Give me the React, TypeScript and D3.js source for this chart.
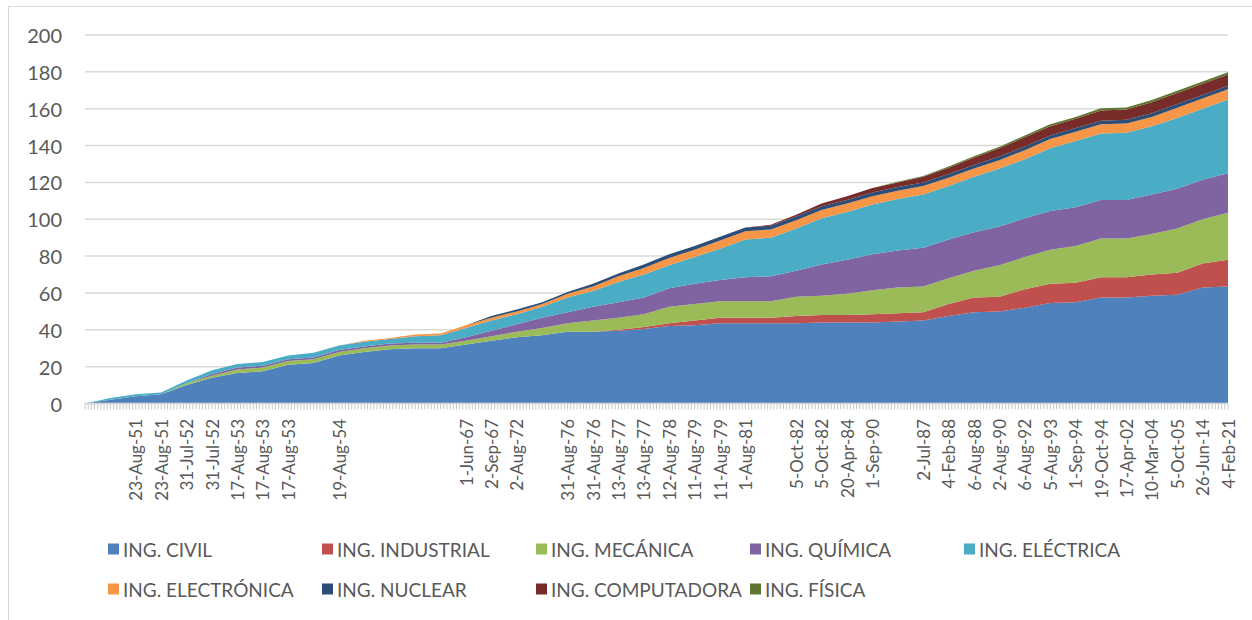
import React from 'react';
import * as d3 from 'd3';

// Category axis: 361 categories, labels shown every 8th category
const categoryCount = 361;
const labelStep = 8;

const sampleLabels = [
  '', '', '23-Aug-51', '23-Aug-51', '31-Jul-52', '31-Jul-52', '17-Aug-53', '17-Aug-53',
  '17-Aug-53', '', '19-Aug-54', '', '', '', '', '1-Jun-67', '2-Sep-67', '2-Aug-72', '',
  '31-Aug-76', '31-Aug-76', '13-Aug-77', '13-Aug-77', '12-Aug-78', '11-Aug-79', '11-Aug-79',
  '1-Aug-81', '', '5-Oct-82', '5-Oct-82', '20-Apr-84', '1-Sep-90', '', '2-Jul-87', '4-Feb-88',
  '6-Aug-88', '2-Aug-90', '6-Aug-92', '5-Aug-93', '1-Sep-94', '19-Oct-94', '17-Apr-02',
  '10-Mar-04', '5-Oct-05', '26-Jun-14', '4-Feb-21',
];

// Cumulative values per series at each labelled category
const civil = [0, 2, 4, 5, 10, 14, 16.5, 17.5, 21, 22, 26, 28, 29.5, 30, 30, 32, 34, 36, 37, 39, 39, 39.5, 40.5, 42, 42.5, 43.5, 43.5, 43.5, 43.5, 44, 44, 44, 44.5, 45, 47.5, 49.5, 50, 52, 54.5, 55, 57.5, 57.5, 58.5, 59, 63, 63.5];
const industrial = [0, 0, 0, 0, 0, 0, 0, 0, 0, 0, 0, 0, 0, 0, 0, 0, 0, 0, 0, 0, 0, 0.5, 1, 1.5, 2.5, 3, 3, 3, 4, 4, 4, 4.5, 4.5, 4.5, 6.5, 8, 8, 10, 10.5, 10.5, 11, 11, 11.5, 12, 13, 14.5];
const mecanica = [0, 0, 0, 0, 1, 1, 2, 2, 2, 2, 2, 2, 2, 2, 2, 2, 2.5, 3, 4, 4.5, 6, 6.5, 7, 9, 9, 9, 9, 9, 10.5, 10.5, 11.5, 13, 14, 14, 14, 14.5, 17, 17.5, 18.5, 20, 21, 21, 22, 24, 24, 25.5];
const quimica = [0, 0, 0, 0, 0, 1, 1, 1, 1, 1, 1, 1, 1, 1, 1, 2, 3, 4, 5.5, 6, 7.5, 8.5, 9, 10, 11, 11.5, 13, 13.5, 14, 17, 18.5, 19.5, 20, 21, 21, 21, 21, 21, 21, 21, 21, 21, 21.5, 21.5, 21.5, 21.5];
const electrica = [0, 1, 1, 1, 1.5, 2, 2, 2, 2, 2.5, 2.5, 2.5, 2.5, 3.5, 4, 5, 5.5, 5.5, 6, 8, 8.5, 11, 12.5, 12.5, 14.5, 17, 20.5, 21, 23, 25, 26, 27, 28, 29, 29, 30, 31.5, 32, 34, 36, 36, 36.5, 37, 38.5, 38.5, 40];
const electronica = [0, 0, 0, 0, 0, 0, 0, 0, 0, 0, 0, 0.5, 0.5, 1, 1, 1.5, 1.5, 1.5, 1.5, 2, 2.5, 3, 3.5, 4, 4, 4.5, 4.5, 4.5, 4.5, 4.5, 4.5, 4.5, 4.5, 4.5, 4.5, 4.5, 4.5, 5, 5, 5, 5, 5, 5, 5.5, 5.5, 5.5];
const nuclear = [0, 0, 0, 0, 0, 0, 0, 0, 0, 0, 0, 0, 0, 0, 0, 0, 1, 1, 1, 1, 1.5, 1.5, 2, 2, 2, 2, 2, 2, 2, 2, 2, 2, 2, 2, 2, 2, 2, 2, 2, 2, 2, 2, 2, 2, 2, 2];
const computadora = [0, 0, 0, 0, 0, 0, 0, 0, 0, 0, 0, 0, 0, 0, 0, 0, 0, 0, 0, 0, 0, 0, 0, 0, 0, 0, 0, 0.5, 1, 1.5, 2, 2.5, 2.5, 3, 3.5, 4, 4.5, 5, 5, 5, 5.5, 5.5, 6, 6, 6, 6];
const fisica = [0, 0, 0, 0, 0, 0, 0, 0, 0, 0, 0, 0, 0, 0, 0, 0, 0, 0, 0, 0, 0, 0, 0, 0, 0, 0, 0, 0, 0, 0, 0, 0, 0.3, 0.5, 0.6, 0.7, 0.8, 0.9, 1, 1, 1.2, 1.2, 1.2, 1.2, 1.3, 1.3];

const seriesNames = [
  'ING. CIVIL', 'ING. INDUSTRIAL', 'ING. MECÁNICA', 'ING. QUÍMICA', 'ING. ELÉCTRICA',
  'ING. ELECTRÓNICA', 'ING. NUCLEAR', 'ING. COMPUTADORA', 'ING. FÍSICA',
];
const seriesValues = [civil, industrial, mecanica, quimica, electrica, electronica, nuclear, computadora, fisica];
const seriesColors = ['#4F81BD', '#C0504D', '#9BBB59', '#8064A2', '#4BACC6', '#F79646', '#2C4D75', '#772C2A', '#5F7530'];

const yTicks = [0, 20, 40, 60, 80, 100, 120, 140, 160, 180, 200];

const FONT = "Lato, 'Open Sans', sans-serif";
const TEXT = '#595959';
const GRID = '#d9d9d9';

export default function App() {
  const W = 1252;
  const H = 620;
  const x = d3.scaleLinear().domain([0, categoryCount - 1]).range([85, 1228]);
  const y = d3.scaleLinear().domain([0, 200]).range([403.5, 35]);

  const keys = seriesNames.map((_, i) => 's' + i);
  const rows = sampleLabels.map((label, k) => {
    const r: any = { idx: k * labelStep, label };
    seriesValues.forEach((arr, i) => { r['s' + i] = arr[k]; });
    return r;
  });
  const stacked = d3.stack<any>().keys(keys)(rows);
  const area = d3.area<any>()
    .x((d) => x(d.data.idx))
    .y0((d) => y(d[0]))
    .y1((d) => y(d[1]))
    .curve(d3.curveLinear);

  const ticks = d3.range(categoryCount);

  return (
    <svg width={W} height={H} style={{ position: 'absolute', left: 0, top: 0, background: '#fff' }}>
      <rect x={8.5} y={6.5} width={1300} height={700} fill="#fff" stroke={GRID} strokeWidth={1} />
      {yTicks.map((t) => (
        <line key={'g' + t} x1={85} x2={1228} y1={y(t)} y2={y(t)} stroke={GRID} strokeWidth={1.5} />
      ))}
      {yTicks.map((t) => (
        <text key={'yl' + t} x={62} y={y(t)} textAnchor="end" dominantBaseline="central"
          fontFamily={FONT} fontSize={20} fill={TEXT}>{t}</text>
      ))}
      {stacked.map((s, i) => (
        <path key={'a' + i} d={area(s) || ''} fill={seriesColors[i]} />
      ))}
      <line x1={85} x2={1228} y1={y(0)} y2={y(0)} stroke={GRID} strokeWidth={1.5} />
      {ticks.map((i) => (
        <line key={'t' + i} x1={x(i)} x2={x(i)} y1={y(0)} y2={y(0) + 6} stroke="#c8c8c8" strokeWidth={1} />
      ))}
      {rows.map((r) => r.label ? (
        <text key={'xl' + r.idx} transform={`translate(${x(r.idx)},419) rotate(-90)`}
          textAnchor="end" dominantBaseline="central" fontFamily={FONT} fontSize={17} fill={TEXT}>
          {r.label}
        </text>
      ) : null)}
      {seriesNames.map((name, i) => {
        const col = i % 5;
        const row = Math.floor(i / 5);
        const lx = 108 + col * 214;
        const ly = 549 + row * 40;
        return (
          <g key={'lg' + i}>
            <rect x={lx} y={ly - 5.5} width={11} height={11} fill={seriesColors[i]} />
            <text x={lx + 15} y={ly} dominantBaseline="central" fontFamily={FONT} fontSize={19} fill={TEXT}>{name}</text>
          </g>
        );
      })}
    </svg>
  );
}
